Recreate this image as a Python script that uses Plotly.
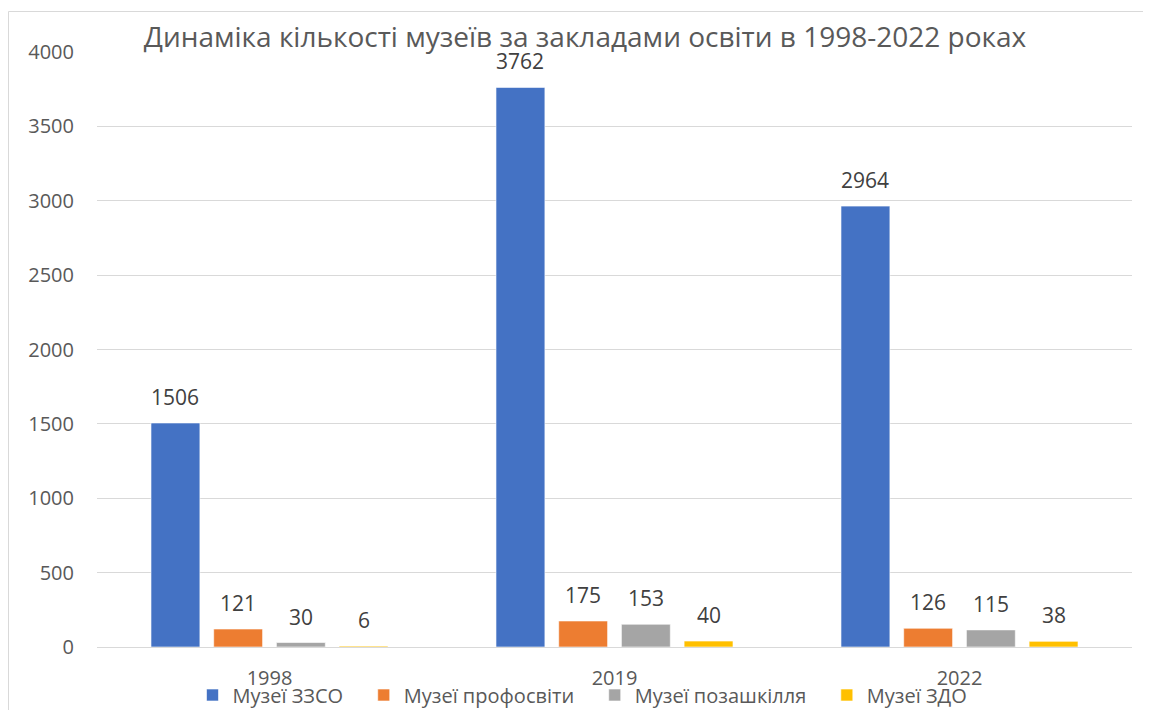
import plotly.graph_objects as go

years = ["1998", "2019", "2022"]
series_names = ["Музеї ЗЗСО", "Музеї профосвіти", "Музеї позашкілля", "Музеї ЗДО"]
zzso = [1506, 3762, 2964]
profosvity = [121, 175, 126]
pozashkillia = [30, 153, 115]
zdo = [6, 40, 38]
y_ticks = [0, 500, 1000, 1500, 2000, 2500, 3000, 3500, 4000]
title_text = "Динаміка кількості музеїв за закладами освіти в 1998-2022 роках"

colors = ["#4472C4", "#ED7D31", "#A5A5A5", "#FFC000"]
FONT = "Open Sans"
BARGAP = 0.273
NS = len(series_names)

fig = go.Figure()
annotations = []
all_vals = [zzso, profosvity, pozashkillia, zdo]
slot = (1 - BARGAP) / NS
for j, (name, vals, col) in enumerate(zip(series_names, all_vals, colors)):
    fig.add_trace(go.Bar(
        x=years, y=vals, name=name + "\u00a0\u00a0\u00a0",
        marker=dict(color=col, line=dict(color="white", width=0.6)),
        cliponaxis=False,
    ))
    for i, v in enumerate(vals):
        annotations.append(dict(
            x=i + (j - (NS - 1) / 2) * slot, y=v, xref="x", yref="y",
            text=str(v), showarrow=False, yanchor="bottom", yshift=10,
            font=dict(size=21, color="#404040", family=FONT),
        ))

# page body has an 8px margin: work in reference pixels minus 8
OFF = 8
W, H = 1151 - OFF, 710 - OFF
L, T = 97 - OFF, 52 - OFF
R = W - (1132 - OFF)
B = H - (647 - OFF)
pw, ph = W - L - R, H - T - B

def px(xp):
    return (xp - OFF - L) / pw

def py(yp):
    return (H - B - (yp - OFF)) / ph

fig.update_layout(
    width=W, height=H,
    margin=dict(l=L, r=R, t=T, b=B, autoexpand=False),
    paper_bgcolor="white", plot_bgcolor="white",
    barmode="group", bargap=BARGAP, bargroupgap=0.22,
    font=dict(family=FONT, color="#595959", size=20),
    title=dict(text=title_text, x=(585 - OFF) / W, xanchor="center",
               y=1 - (37 - OFF) / H, yanchor="middle", yref="container",
               font=dict(size=28, color="#595959", family=FONT)),
    legend=dict(orientation="h", x=px(590), xanchor="center", y=py(695), yanchor="middle",
                font=dict(size=20, color="#595959", family=FONT),
                bgcolor="rgba(0,0,0,0)", traceorder="normal"),
    xaxis=dict(showgrid=False, showline=False, ticks="", ticklabelstandoff=17,
               tickfont=dict(size=20, color="#595959")),
    yaxis=dict(range=[0, 4000], tickvals=y_ticks, showgrid=True, gridcolor="#D9D9D9",
               gridwidth=1, zeroline=True, zerolinecolor="#D9D9D9", zerolinewidth=1,
               ticks="", ticklabelstandoff=22, tickfont=dict(size=20, color="#595959")),
    annotations=annotations,
    shapes=[
        dict(type="line", xref="paper", yref="paper", x0=px(8.5), x1=px(1151), y0=py(11.5), y1=py(11.5),
             line=dict(color="#D9D9D9", width=1)),
        dict(type="line", xref="paper", yref="paper", x0=px(8.5), x1=px(8.5), y0=py(11.5), y1=py(710),
             line=dict(color="#D9D9D9", width=1)),
    ],
)

fig.write_html("out.html")
